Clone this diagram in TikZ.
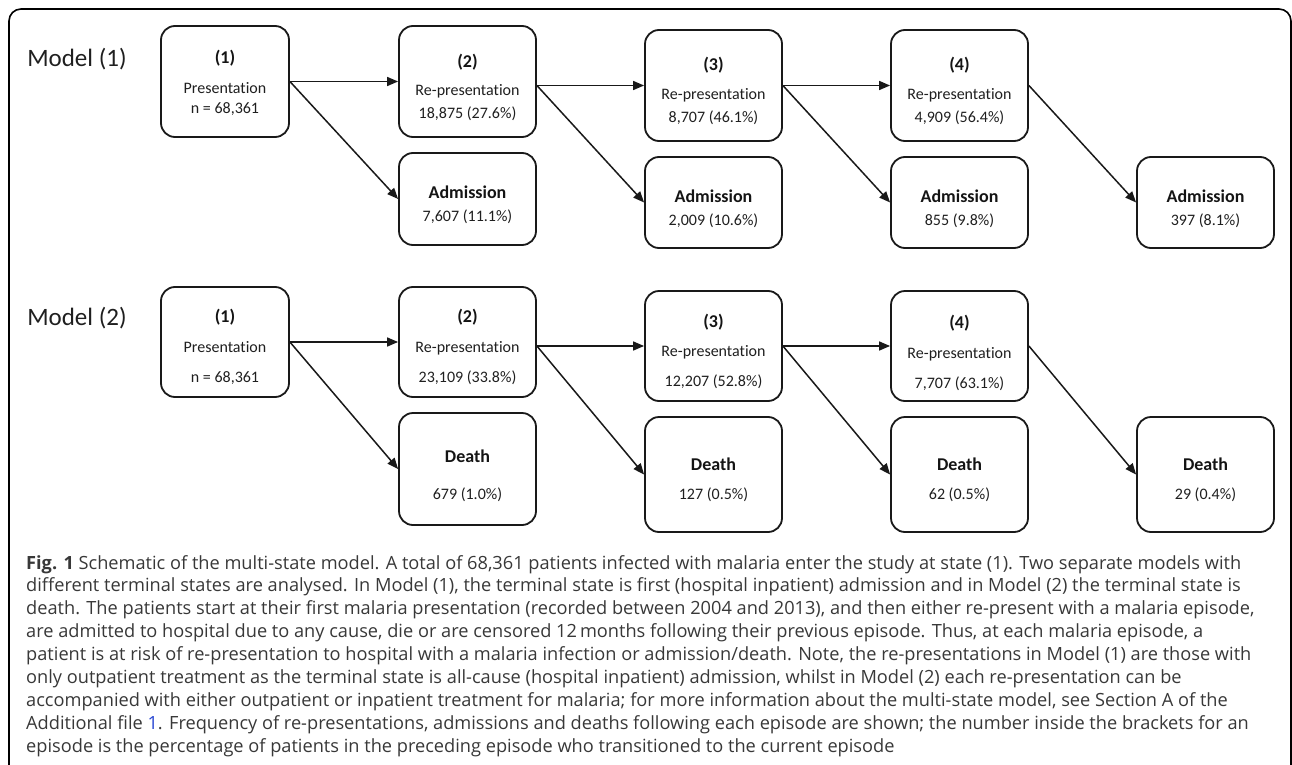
\documentclass[tikz,border=0pt]{standalone}
\usepackage{fontspec}
\setmainfont{Carlito}[Ligatures=NoCommon]
\newfontfamily\capfont{Open Sans}[Ligatures=NoCommon]
\usetikzlibrary{arrows.meta}
\definecolor{linkblue}{RGB}{40,70,210}
\begin{document}
\begin{tikzpicture}[x=1pt,y=-1pt,
  box/.style={draw=black!90, line width=1.8pt, rounded corners=14pt, inner sep=0pt},
  arr/.style={draw=black!90, line width=1.5pt, -{Triangle[length=11pt,width=9pt]}},
  lab/.style={inner sep=0pt, anchor=center, font=\fontsize{16}{19}\selectfont, text=black!88},
  ttl/.style={inner sep=0pt, anchor=center, font=\fontsize{18}{21}\selectfont\bfseries, text=black!92},
  mdl/.style={inner sep=0pt, anchor=center, font=\fontsize{25}{29}\selectfont, text=black!88},
  capline/.style={inner sep=0pt, anchor=base west, font=\capfont\fontsize{18.2}{23}\selectfont, text=black!78},
]
\useasboundingbox (0,0) rectangle (1292,765);
\begin{scope}
\clip (0,0) rectangle (1292,765);
\draw[line width=1.6pt, rounded corners=12pt] (9,800) -- (9,9) -- (1291,9) -- (1291,800);
\end{scope}

% Model labels
\node[mdl] (m1) at (77,59) {Model (1)};
\node[mdl] (m2) at (77,318) {Model (2)};

% Model 1 boxes
\node[box, minimum width=128pt, minimum height=111pt] (A1) at (225,81.5) {};
\node[box, minimum width=137pt, minimum height=111pt] (A2) at (467.5,81.5) {};
\node[box, minimum width=137pt, minimum height=111pt] (A3) at (713.5,85.5) {};
\node[box, minimum width=137pt, minimum height=111pt] (A4) at (959.5,85.5) {};
\node[box, minimum width=137pt, minimum height=92pt] (B2) at (467.5,199) {};
\node[box, minimum width=137pt, minimum height=91pt] (B3) at (713.5,202.5) {};
\node[box, minimum width=137pt, minimum height=91pt] (B4) at (959.5,202.5) {};
\node[box, minimum width=137pt, minimum height=91pt] (B5) at (1205.5,202.5) {};

% Model 1 texts
\node[ttl] (A1a) at (225,58) {(1)};
\node[lab] (A1b) at (225,89) {\vphantom{(}Presentation};
\node[lab] (A1c) at (225,109) {\vphantom{(}n = 68,361};
\node[ttl] (A2a) at (467.5,62.5) {(2)};
\node[lab] (A2b) at (467.5,91) {\vphantom{(}Re-presentation};
\node[lab] (A2c) at (467.5,114) {18,875 (27.6\%)};
\node[ttl] (A3a) at (713.5,65.5) {(3)};
\node[lab] (A3b) at (713.5,95) {\vphantom{(}Re-presentation};
\node[lab] (A3c) at (713.5,118) {8,707 (46.1\%)};
\node[ttl] (A4a) at (959.5,65.5) {(4)};
\node[lab] (A4b) at (959.5,95) {\vphantom{(}Re-presentation};
\node[lab] (A4c) at (959.5,118) {4,909 (56.4\%)};
\node[ttl] (B2a) at (467.5,193) {\vphantom{(}Admission};
\node[lab] (B2b) at (467.5,217) {7,607 (11.1\%)};
\node[ttl] (B3a) at (713.5,197) {\vphantom{(}Admission};
\node[lab] (B3b) at (713.5,221) {2,009 (10.6\%)};
\node[ttl] (B4a) at (959.5,197) {\vphantom{(}Admission};
\node[lab] (B4b) at (959.5,221) {855 (9.8\%)};
\node[ttl] (B5a) at (1205.5,197) {\vphantom{(}Admission};
\node[lab] (B5b) at (1205.5,221) {397 (8.1\%)};

% Model 1 arrows
\draw[arr] (A1.east) -- (A2.west);
\draw[arr] (A1.east) -- (B2.west);
\draw[arr] (A2.east |- A3.west) -- (A3.west);
\draw[arr] (A2.east |- A3.west) -- (B3.west);
\draw[arr] (A3.east) -- (A4.west);
\draw[arr] (A3.east) -- (B4.west);
\draw[arr] (A4.east) -- (B5.west);

% Model 2 boxes
\node[box, minimum width=128pt, minimum height=110pt] (C1) at (225,342) {};
\node[box, minimum width=137pt, minimum height=110pt] (C2) at (467.5,342) {};
\node[box, minimum width=137pt, minimum height=110pt] (C3) at (713.5,346) {};
\node[box, minimum width=137pt, minimum height=110pt] (C4) at (959.5,346) {};
\node[box, minimum width=137pt, minimum height=112pt] (D2) at (467.5,469) {};
\node[box, minimum width=137pt, minimum height=115pt] (D3) at (713.5,474.5) {};
\node[box, minimum width=137pt, minimum height=115pt] (D4) at (959.5,474.5) {};
\node[box, minimum width=137pt, minimum height=115pt] (D5) at (1205.5,474.5) {};

% Model 2 texts
\node[ttl] (C1a) at (225,317) {(1)};
\node[lab] (C1b) at (225,348) {\vphantom{(}Presentation};
\node[lab] (C1c) at (225,378) {\vphantom{(}n = 68,361};
\node[ttl] (C2a) at (467.5,317) {(2)};
\node[lab] (C2b) at (467.5,348) {\vphantom{(}Re-presentation};
\node[lab] (C2c) at (467.5,378) {23,109 (33.8\%)};
\node[ttl] (C3a) at (713.5,322) {(3)};
\node[lab] (C3b) at (713.5,352) {\vphantom{(}Re-presentation};
\node[lab] (C3c) at (713.5,382) {12,207 (52.8\%)};
\node[ttl] (C4a) at (959.5,323) {(4)};
\node[lab] (C4b) at (959.5,354) {\vphantom{(}Re-presentation};
\node[lab] (C4c) at (959.5,384) {7,707 (63.1\%)};
\node[ttl] (D2a) at (467.5,457) {\vphantom{(}Death};
\node[lab] (D2b) at (467.5,495) {679 (1.0\%)};
\node[ttl] (D3a) at (713.5,465) {\vphantom{(}Death};
\node[lab] (D3b) at (713.5,495) {127 (0.5\%)};
\node[ttl] (D4a) at (959.5,465) {\vphantom{(}Death};
\node[lab] (D4b) at (959.5,495) {62 (0.5\%)};
\node[ttl] (D5a) at (1205.5,465) {\vphantom{(}Death};
\node[lab] (D5b) at (1205.5,495) {29 (0.4\%)};

% Model 2 arrows
\draw[arr] (C1.east) -- (C2.west);
\draw[arr] (C1.east) -- (D2.west);
\draw[arr] (C2.east |- C3.west) -- (C3.west);
\draw[arr] (C2.east |- C3.west) -- (D3.west);
\draw[arr] (C3.east) -- (C4.west);
\draw[arr] (C3.east) -- (D4.west);
\draw[arr] (C4.east) -- (D5.west);

% Caption
\node[capline] (cap1) at (26,569) {\textbf{Fig. 1} Schematic of the multi-state model. A total of 68,361 patients infected with malaria enter the study at state (1). Two separate models with};
\node[capline] (cap2) at (26,591.9) {different terminal states are analysed. In Model (1), the terminal state is first (hospital inpatient) admission and in Model (2) the terminal state is};
\node[capline] (cap3) at (26,614.8) {death. The patients start at their first malaria presentation (recorded between 2004 and 2013), and then either re-present with a malaria episode,};
\node[capline] (cap4) at (26,637.7) {are admitted to hospital due to any cause, die or are censored 12\,months following their previous episode. Thus, at each malaria episode, a};
\node[capline] (cap5) at (26,660.6) {patient is at risk of re-presentation to hospital with a malaria infection or admission/death. Note, the re-presentations in Model (1) are those with};
\node[capline] (cap6) at (26,683.5) {only outpatient treatment as the terminal state is all-cause (hospital inpatient) admission, whilst in Model (2) each re-presentation can be};
\node[capline] (cap7) at (26,706.4) {accompanied with either outpatient or inpatient treatment for malaria; for more information about the multi-state model, see Section A of the};
\node[capline] (cap8) at (26,729.3) {Additional file \textcolor{linkblue}{1}. Frequency of re-presentations, admissions and deaths following each episode are shown; the number inside the brackets for an};
\node[capline] (cap9) at (26,752.2) {episode is the percentage of patients in the preceding episode who transitioned to the current episode};
\end{tikzpicture}
\end{document}
